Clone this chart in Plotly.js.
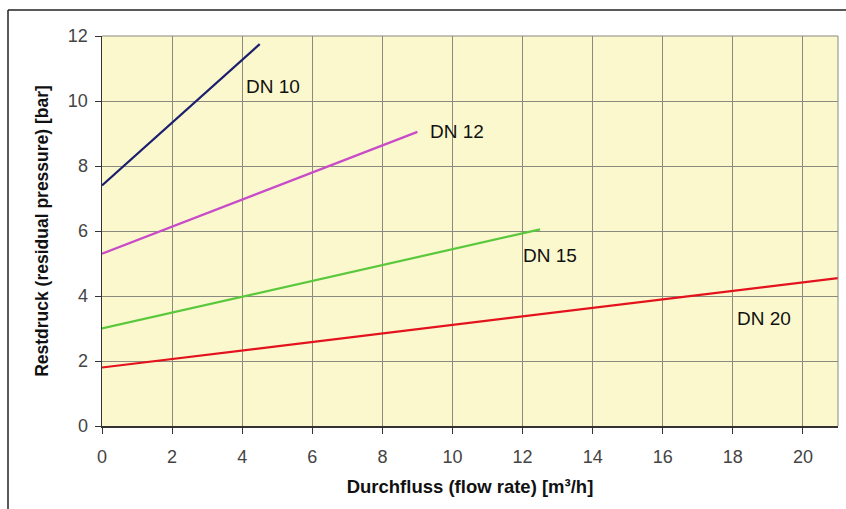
<!DOCTYPE html>
<html>
<head>
<meta charset="utf-8">
<script src="https://cdn.plot.ly/plotly-3.0.1.min.js"></script>
<style>html,body{margin:0;padding:0;background:#fff;}#chart{width:846px;height:509px;}</style>
</head>
<body>
<div id="chart"></div>
<script>
const seriesNames = ["DN 10", "DN 12", "DN 15", "DN 20"];
const seriesX = [[0, 4.5], [0, 9], [0, 12.5], [0, 21]];
const seriesY = [[7.4, 11.75], [5.3, 9.05], [3.0, 6.05], [1.8, 4.55]];
const seriesColors = ["#1c1f6e", "#c84bc8", "#5ac83c", "#e3121c"];
const labelX = [4.05, 9.3, 11.95, 18.05];
const labelY = [10.45, 9.05, 5.25, 3.3];
const xTicks = [0, 2, 4, 6, 8, 10, 12, 14, 16, 18, 20];
const yTicks = [0, 2, 4, 6, 8, 10, 12];

const traces = seriesNames.map((n, i) => ({
  x: seriesX[i], y: seriesY[i], type: 'scatter', mode: 'lines', name: n,
  line: {color: seriesColors[i], width: 2.2}, hoverinfo: 'skip'
}));

const annotations = seriesNames.map((n, i) => ({
  x: labelX[i], y: labelY[i], xref: 'x', yref: 'y', text: n, showarrow: false,
  xanchor: 'left', yanchor: 'middle',
  font: {family: 'Liberation Sans, Arial, sans-serif', size: 19, color: '#111'}
}));

const W = 846, H = 509, L = 102, R = 8, T = 36, B = 83;
const pw = W - L - R, ph = H - T - B;
const px = v => (v - L) / pw;
const py = v => 1 - (v - T) / ph;

const layout = {
  width: W, height: H,
  margin: {l: L, r: R, t: T, b: B, pad: 0},
  paper_bgcolor: '#ffffff', plot_bgcolor: '#fbf8cd',
  showlegend: false,
  font: {family: 'Liberation Sans, Arial, sans-serif', color: '#333'},
  xaxis: {
    range: [0, 21], tickvals: xTicks, ticktext: xTicks.map(String),
    showgrid: true, gridcolor: '#8a8a80', gridwidth: 1,
    showline: true, linecolor: '#333', linewidth: 1.5,
    ticks: 'outside', ticklen: 6, tickcolor: '#333',
    ticklabelstandoff: 8,
    zeroline: false, mirror: false,
    tickfont: {size: 18, color: '#444'},
    title: {text: 'Durchfluss (flow rate) [m³/h]', standoff: 14,
      font: {size: 18.5, color: '#111', weight: 'bold'}}
  },
  yaxis: {
    range: [0, 12], tickvals: yTicks, ticktext: yTicks.map(String),
    showgrid: true, gridcolor: '#8a8a80', gridwidth: 1,
    showline: true, linecolor: '#333', linewidth: 1.5,
    ticks: 'outside', ticklen: 6, tickcolor: '#333',
    ticklabelstandoff: 3,
    zeroline: false,
    tickfont: {size: 18, color: '#444'},
    title: {text: 'Restdruck (residual pressure) [bar]', standoff: 14,
      font: {size: 17.5, color: '#111', weight: 'bold'}}
  },
  annotations: annotations,
  shapes: [
    {type: 'line', xref: 'paper', yref: 'paper', x0: 0, x1: 1, y0: 1, y1: 1,
      line: {color: '#8a8a80', width: 1}},
    {type: 'line', xref: 'paper', yref: 'paper', x0: 1, x1: 1, y0: 0, y1: 1,
      line: {color: '#8a8a80', width: 1}},
    {type: 'line', xref: 'paper', yref: 'paper', x0: px(8), x1: px(846), y0: py(10), y1: py(10),
      line: {color: '#222', width: 1.5}},
    {type: 'line', xref: 'paper', yref: 'paper', x0: px(8), x1: px(8), y0: py(10), y1: py(509),
      line: {color: '#222', width: 1.5}}
  ]
};

Plotly.newPlot('chart', traces, layout, {staticPlot: true, displayModeBar: false});
</script>
</body>
</html>
